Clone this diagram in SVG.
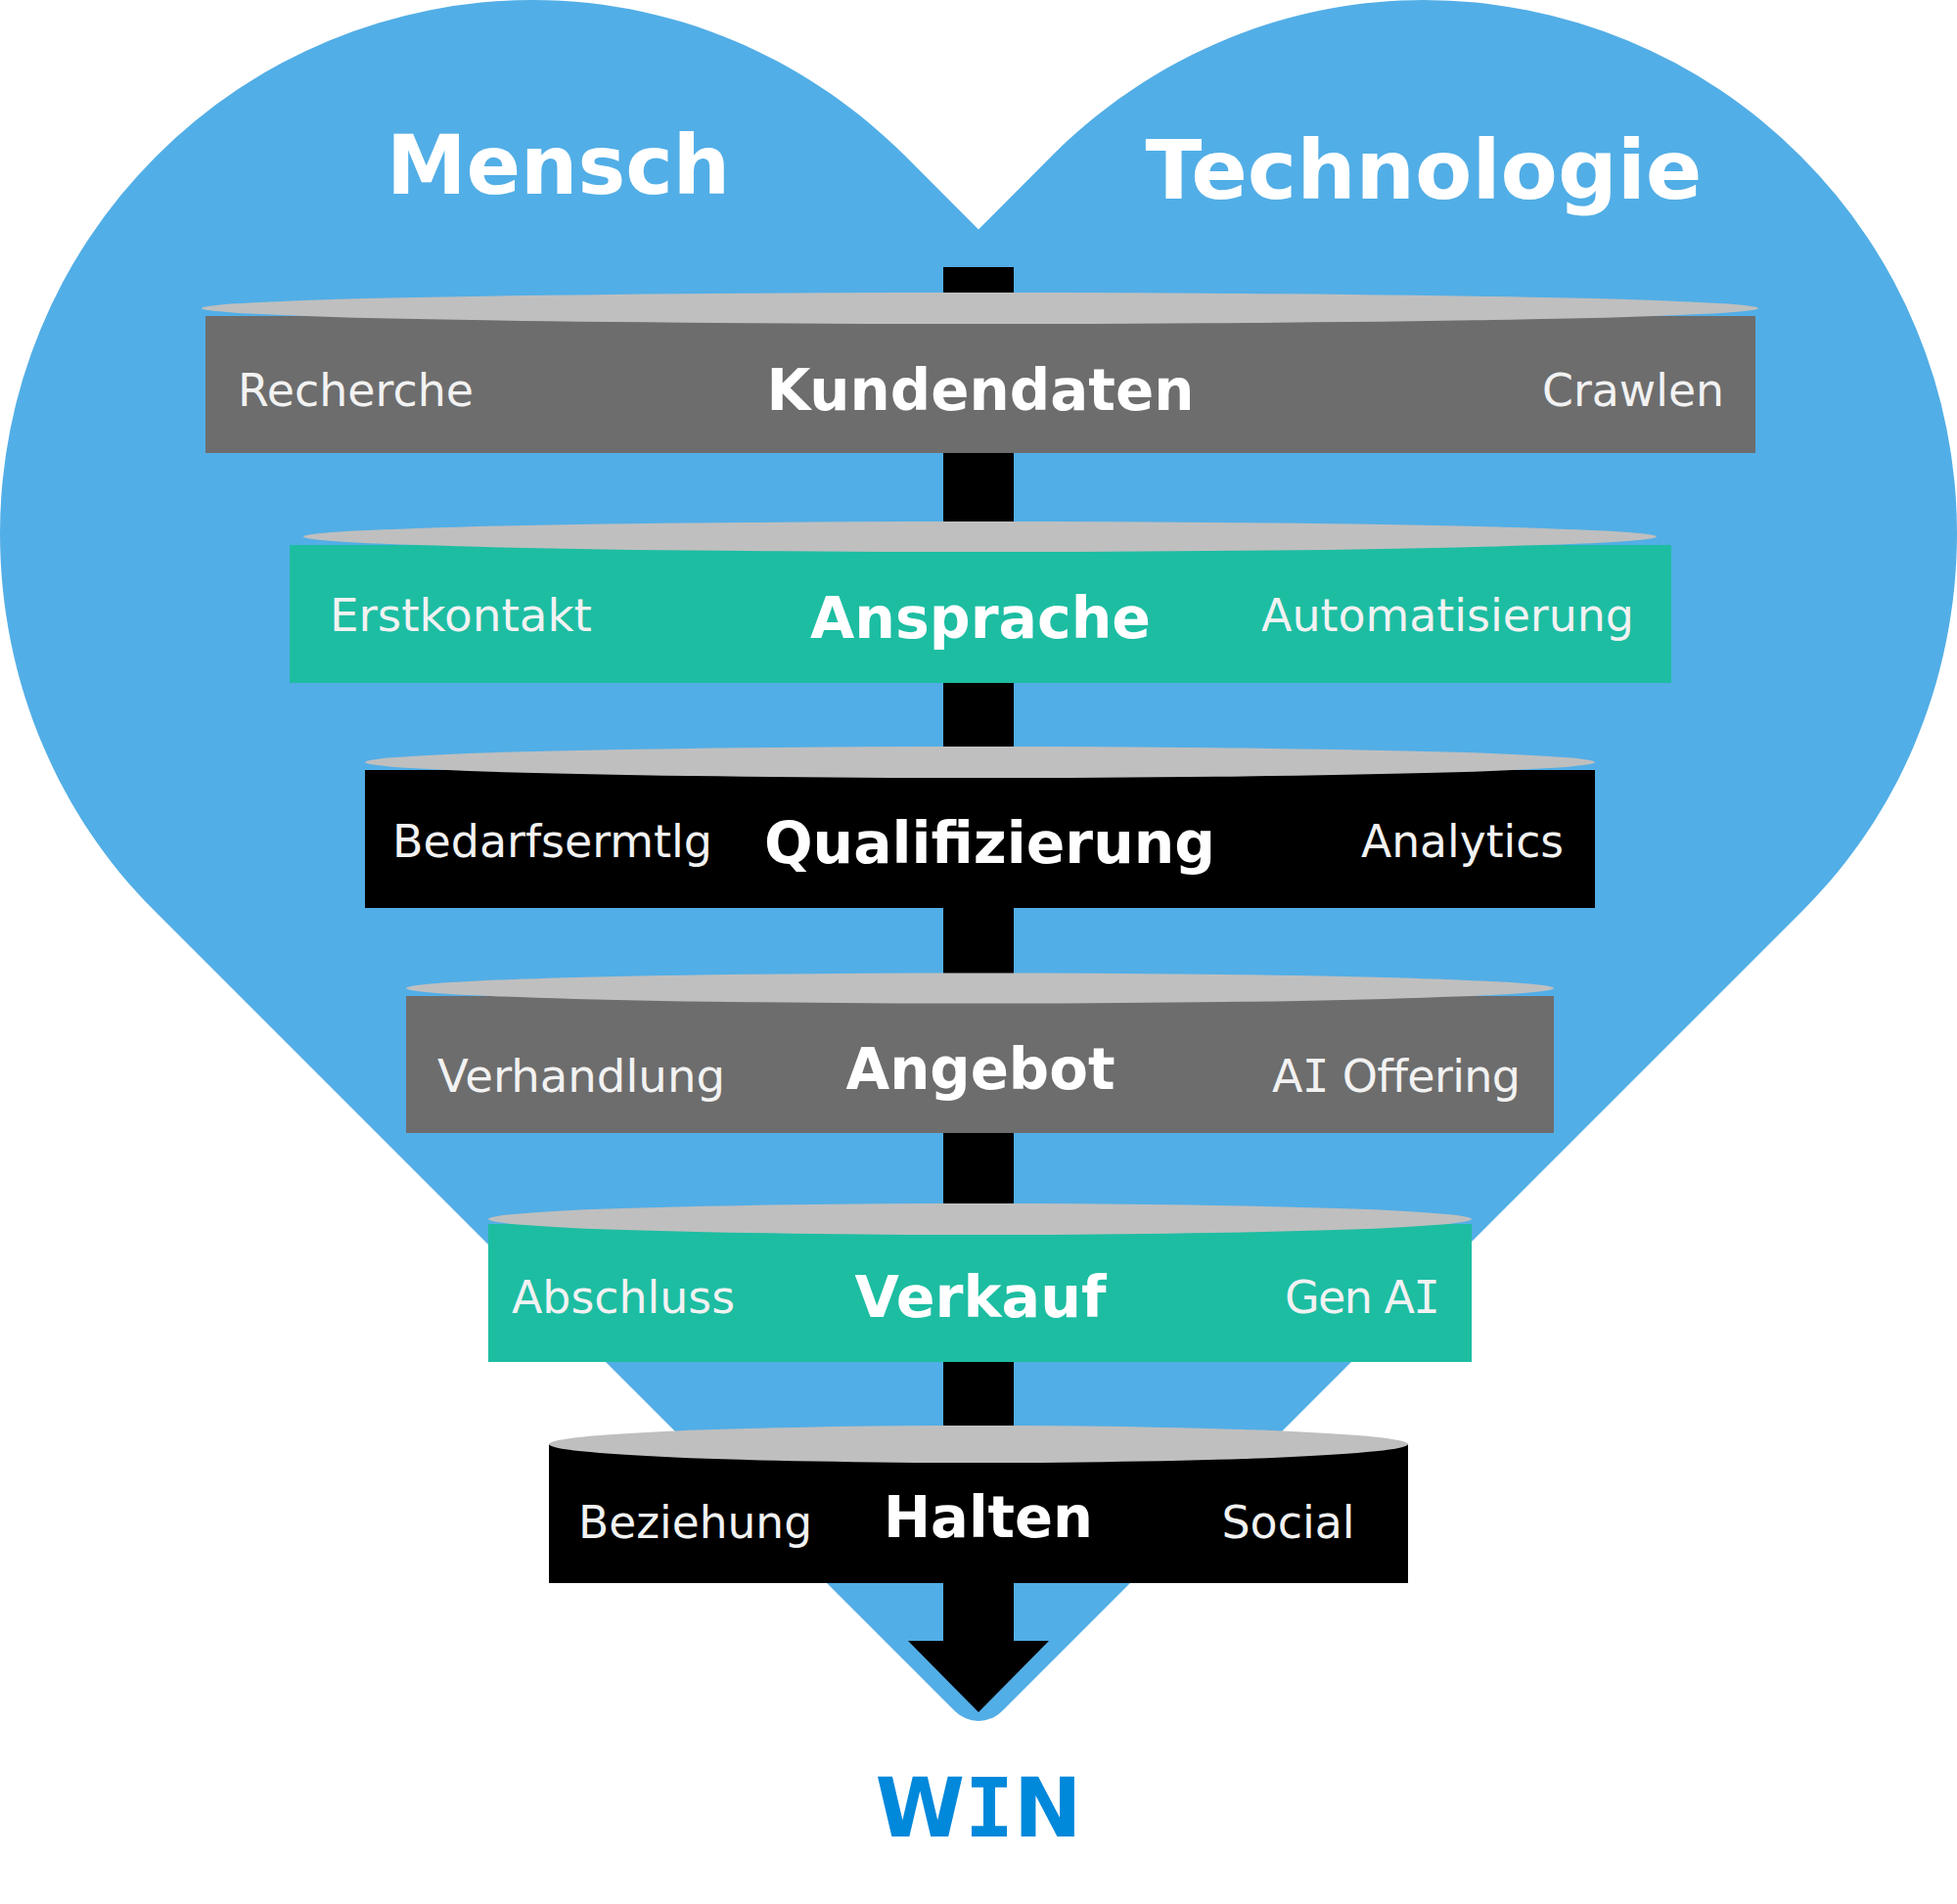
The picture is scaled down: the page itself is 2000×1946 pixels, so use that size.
<svg xmlns="http://www.w3.org/2000/svg" width="2000" height="1946" viewBox="0 0 2000 1946">
<style>
.lid{fill:#bfbfbf}
.gray{fill:#6d6d6d}
.teal{fill:#1dbda2}
.blk{fill:#000}
text{font-family:"DejaVu Sans","Liberation Sans",sans-serif}
.t{font-weight:700;fill:#fff;text-anchor:middle}
.big{font-size:84px}
.st{font-size:58px}
.l{font-size:46px;fill:#f2f2f2}
.e{text-anchor:end}
.mono{font-family:"DejaVu Sans Mono","DejaVu Sans",monospace}
</style>
<rect width="2000" height="1946" fill="#fff"/>
<g id="heart">
<path d="M1000 234.5 L925 159.3 C824 58.3 688 0 545 0 A545 545 0 0 0 0 545 C0 689 55 828 157 930 L976 1749 A34 34 0 0 0 1024 1749 L1843 930 C1945 828 2000 689 2000 545 A545 545 0 0 0 1455 0 C1312 0 1176 58.3 1075 159.3 Z" fill="#52aee6"/>
<text class="t big" x="570.5" y="198" textLength="351" lengthAdjust="spacingAndGlyphs">Mensch</text>
<text class="t big" x="1455" y="203" textLength="569" lengthAdjust="spacingAndGlyphs">Technologie</text>
</g>
<g id="connectors">
<path d="M964 273 H1036 V1677 H1072 L1000 1750 L928 1677 H964 Z" fill="#000"/>
</g>
<g id="kundendaten">
<rect class="gray" x="210" y="323" width="1584" height="140"/>
<ellipse class="lid" cx="1001.5" cy="315" rx="795.5" ry="16"/>
<text class="t st" x="1002" y="419" textLength="437" lengthAdjust="spacingAndGlyphs">Kundendaten</text>
<text class="l" x="243" y="415" textLength="241" lengthAdjust="spacingAndGlyphs">Recherche</text>
<text class="l e" x="1762" y="415" textLength="186" lengthAdjust="spacingAndGlyphs">Crawlen</text>
</g>
<g id="ansprache">
<rect class="teal" x="296" y="557" width="1412" height="141"/>
<ellipse class="lid" cx="1001.5" cy="548.5" rx="691.5" ry="15.5"/>
<text class="t st" x="1002" y="652" textLength="348" lengthAdjust="spacingAndGlyphs">Ansprache</text>
<text class="l" x="337" y="645" textLength="268" lengthAdjust="spacingAndGlyphs">Erstkontakt</text>
<text class="l e" x="1670" y="645" textLength="381" lengthAdjust="spacingAndGlyphs">Automatisierung</text>
</g>
<g id="qualifizierung">
<rect class="blk" x="373" y="787" width="1257" height="141"/>
<ellipse class="lid" cx="1001.5" cy="779" rx="628.5" ry="16"/>
<text class="t st" x="1011.5" y="882" textLength="461" lengthAdjust="spacingAndGlyphs">Qualifizierung</text>
<text class="l" x="401" y="876" textLength="327" lengthAdjust="spacingAndGlyphs">Bedarfsermtlg</text>
<text class="l e" x="1598" y="876" textLength="207" lengthAdjust="spacingAndGlyphs">Analytics</text>
</g>
<g id="angebot">
<rect class="gray" x="415" y="1018" width="1173" height="140"/>
<ellipse class="lid" cx="1001.5" cy="1010" rx="586.5" ry="15.5"/>
<text class="t st" x="1002" y="1113" textLength="275" lengthAdjust="spacingAndGlyphs">Angebot</text>
<text class="l" x="447" y="1116" textLength="294" lengthAdjust="spacingAndGlyphs">Verhandlung</text>
<text class="l e" x="1554" y="1116" textLength="254">A<tspan class="mono">I</tspan> Offering</text>
</g>
<g id="verkauf">
<rect class="teal" x="499" y="1251" width="1005" height="141"/>
<ellipse class="lid" cx="1001.5" cy="1246" rx="502.5" ry="16"/>
<text class="t st" x="1002" y="1346" textLength="257" lengthAdjust="spacingAndGlyphs">Verkauf</text>
<text class="l" x="523" y="1342" textLength="228" lengthAdjust="spacingAndGlyphs">Abschluss</text>
<text class="l e" x="1472" y="1342" textLength="159">Gen A<tspan class="mono">I</tspan></text>
</g>
<g id="halten">
<rect class="blk" x="561" y="1476" width="878" height="142"/>
<ellipse class="lid" cx="1000" cy="1476" rx="439" ry="19"/>
<text class="t st" x="1010" y="1571" textLength="214" lengthAdjust="spacingAndGlyphs">Halten</text>
<text class="l" x="591" y="1572" textLength="239" lengthAdjust="spacingAndGlyphs">Beziehung</text>
<text class="l e" x="1384.5" y="1572" textLength="136" lengthAdjust="spacingAndGlyphs">Social</text>
</g>
<g id="win">
<text x="1000" y="1877" text-anchor="middle" font-size="83" font-weight="700" fill="#0088db">W<tspan class="mono">I</tspan>N</text>
</g>
</svg>
